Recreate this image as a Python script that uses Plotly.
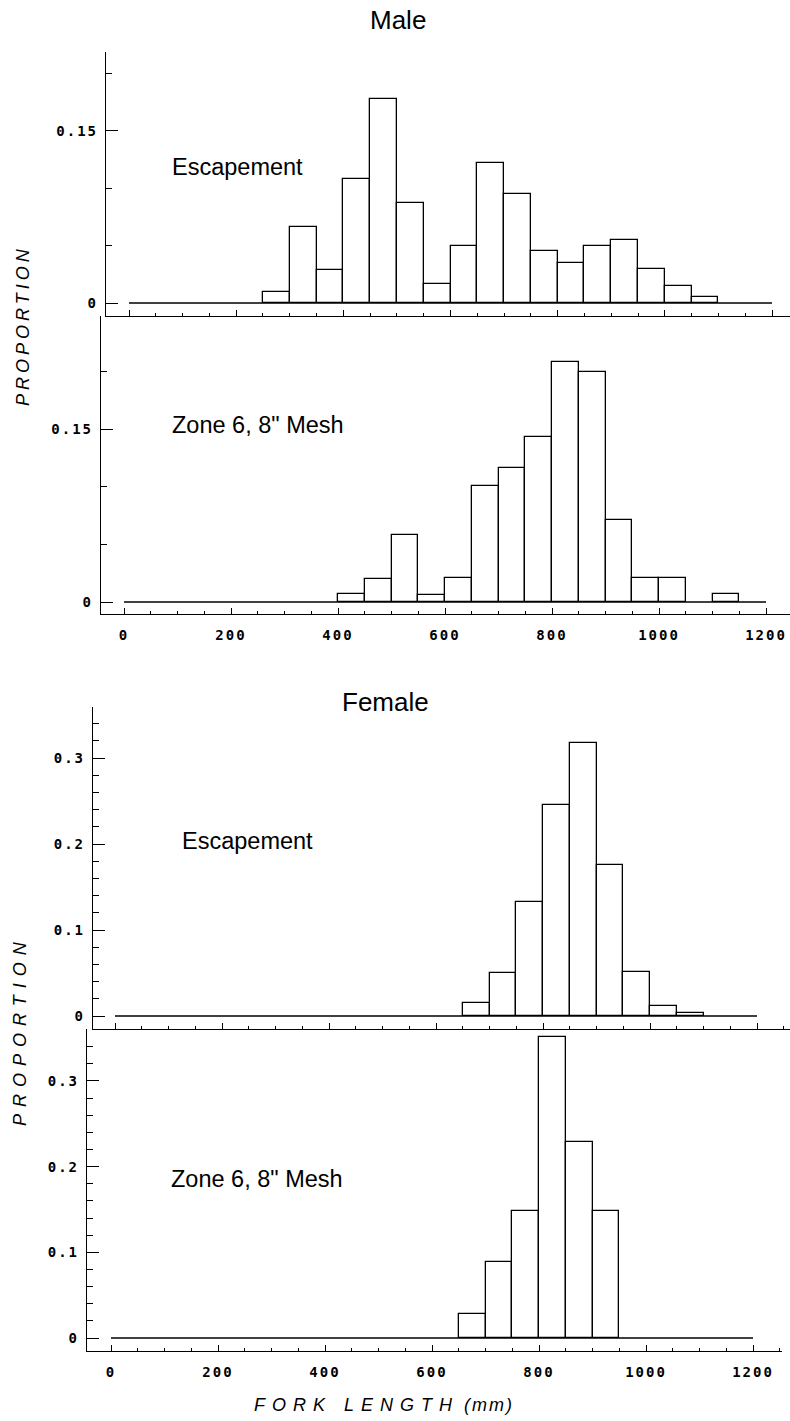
import plotly.graph_objects as go

W, H = 790, 1421

# ---------------- data ----------------
BIN_WIDTH_MM = 50
BASELINE_SPAN_MM = [0, 1200]

male_esc_bins = [250, 300, 350, 400, 450, 500, 550, 600, 650, 700, 750, 800, 850, 900, 950, 1000, 1050]
male_esc_prop = [0.010, 0.066, 0.029, 0.108, 0.178, 0.087, 0.017, 0.050, 0.122, 0.095, 0.045,
                 0.035, 0.050, 0.055, 0.030, 0.015, 0.005]

male_z6_bins = [400, 450, 500, 550, 600, 650, 700, 750, 800, 850, 900, 950, 1000, 1100]
male_z6_prop = [0.007, 0.020, 0.058, 0.006, 0.021, 0.101, 0.116, 0.143, 0.208, 0.200, 0.071,
                0.021, 0.021, 0.007]

fem_esc_bins = [650, 700, 750, 800, 850, 900, 950, 1000, 1050]
fem_esc_prop = [0.015, 0.050, 0.132, 0.245, 0.318, 0.176, 0.051, 0.012, 0.004]

fem_z6_bins = [650, 700, 750, 800, 850, 900]
fem_z6_prop = [0.028, 0.089, 0.148, 0.351, 0.229, 0.148]

x_tick_vals = [0, 200, 400, 600, 800, 1000, 1200]
x_tick_labels = ["0", "200", "400", "600", "800", "1000", "1200"]
male_y_tick_vals = [0, 0.15]
male_y_tick_labels = ["0", "0.15"]
fem_y_tick_vals = [0, 0.1, 0.2, 0.3]
fem_y_tick_labels = ["0", "0.1", "0.2", "0.3"]

panel_labels = ["Escapement", 'Zone 6, 8" Mesh', "Escapement", 'Zone 6, 8" Mesh']
sex_titles = ["Male", "Female"]
y_title = "PROPORTION"
x_title = "FORK LENGTH"
x_unit = "(mm)"

# ---------------- layout geometry (pixels) ----------------
panels = [
    dict(bins=male_esc_bins, vals=male_esc_prop, left=106, right=790, top=52, bottom=316,
         x0=129, x1200=772, y0=303, ppu=1147, yt=male_y_tick_vals, ytl=male_y_tick_labels,
         minor=0.05, xlabels=False),
    dict(bins=male_z6_bins, vals=male_z6_prop, left=101, right=790, top=316, bottom=614,
         x0=124, x1200=766, y0=602, ppu=1152, yt=male_y_tick_vals, ytl=male_y_tick_labels,
         minor=0.05, xlabels=True),
    dict(bins=fem_esc_bins, vals=fem_esc_prop, left=93, right=790, top=707, bottom=1029,
         x0=115, x1200=757, y0=1016, ppu=860, yt=fem_y_tick_vals, ytl=fem_y_tick_labels,
         minor=0.02, xlabels=False),
    dict(bins=fem_z6_bins, vals=fem_z6_prop, left=87, right=782, top=1029, bottom=1351,
         x0=111, x1200=753, y0=1338, ppu=857, yt=fem_y_tick_vals, ytl=fem_y_tick_labels,
         minor=0.02, xlabels=True),
]

TICKFONT = dict(family="DejaVu Sans Mono", size=14, color="black", weight="bold")
LS = '<span style="letter-spacing:2px">{}</span>'


def px_x(p):
    return p / W


def px_y(p):
    return 1 - p / H


fig = go.Figure()
layout = dict(
    width=W, height=H, autosize=False,
    margin=dict(l=0, r=0, t=0, b=0),
    paper_bgcolor="white", plot_bgcolor="rgba(0,0,0,0)",
    showlegend=False, bargap=0,
)

for i, p in enumerate(panels, start=1):
    xa = "x" if i == 1 else f"x{i}"
    ya = "y" if i == 1 else f"y{i}"
    ppmm = (p["x1200"] - p["x0"]) / 1200.0
    xr = [(p["left"] - p["x0"]) / ppmm, (p["right"] - p["x0"]) / ppmm]
    yr = [-(p["bottom"] - p["y0"]) / p["ppu"], (p["y0"] - p["top"]) / p["ppu"]]

    fig.add_trace(go.Scatter(
        x=BASELINE_SPAN_MM, y=[0, 0], mode="lines",
        line=dict(color="black", width=1.3), xaxis=xa, yaxis=ya, hoverinfo="skip"))
    fig.add_trace(go.Bar(
        x=p["bins"], y=p["vals"], width=BIN_WIDTH_MM, offset=0,
        marker=dict(color="white", line=dict(color="black", width=1.3)),
        xaxis=xa, yaxis=ya))

    xkey = "xaxis" if i == 1 else f"xaxis{i}"
    ykey = "yaxis" if i == 1 else f"yaxis{i}"
    layout[xkey] = dict(
        domain=[px_x(p["left"]), px_x(p["right"])], anchor=ya, range=xr,
        showgrid=False, zeroline=False, showline=True, linecolor="black", linewidth=1.3,
        ticks="inside", ticklen=6, tickcolor="black", tickwidth=1.2,
        tickmode="array", tickvals=x_tick_vals,
        ticktext=[LS.format(t) for t in x_tick_labels],
        showticklabels=p["xlabels"], tickfont=TICKFONT, ticklabelstandoff=8,
        minor=dict(dtick=50, tick0=0, ticks="inside", ticklen=3, tickcolor="black",
                   tickwidth=1, showgrid=False),
    )
    layout[ykey] = dict(
        domain=[px_y(p["bottom"]), px_y(p["top"])], anchor=xa, range=yr,
        showgrid=False, zeroline=False, showline=True, linecolor="black", linewidth=1.3,
        ticks="inside", ticklen=12, tickcolor="black", tickwidth=1.2,
        tickmode="array", tickvals=p["yt"],
        ticktext=[LS.format(t) for t in p["ytl"]],
        tickfont=TICKFONT, ticklabelstandoff=4,
        minor=dict(dtick=p["minor"], tick0=0, ticks="inside", ticklen=6, tickcolor="black",
                   tickwidth=1, showgrid=False),
    )

fig.update_layout(**layout)

TXT = dict(family="Liberation Sans, Arial, sans-serif", color="black")
ann = []
# sex titles
for t, (cx, cy) in zip(sex_titles, [(398, 20), (385, 702)]):
    ann.append(dict(text=t, x=px_x(cx), y=px_y(cy), xref="paper", yref="paper",
                    xanchor="center", yanchor="middle", showarrow=False,
                    font=dict(size=26, **TXT)))
# panel labels
for t, (lx, cy) in zip(panel_labels, [(170, 167), (170, 425), (180, 841), (169, 1179)]):
    ann.append(dict(text=t, x=px_x(lx), y=px_y(cy), xref="paper", yref="paper",
                    xanchor="left", yanchor="middle", showarrow=False,
                    font=dict(size=23.5, **TXT)))
# y titles
for (cx, cy, ls) in [(23, 326, 4), (20, 1031, 7)]:
    ann.append(dict(text=f'<i><span style="letter-spacing:{ls}px">{y_title}</span></i>',
                    x=px_x(cx), y=px_y(cy), xref="paper", yref="paper",
                    xanchor="center", yanchor="middle", textangle=-90, showarrow=False,
                    font=dict(size=18, **TXT)))
# x title
ann.append(dict(text=f'<i><span style="letter-spacing:7px">{x_title}</span> '
                     f'<span style="letter-spacing:2px">{x_unit}</span></i>',
                x=px_x(384), y=px_y(1405), xref="paper", yref="paper",
                xanchor="center", yanchor="middle", showarrow=False,
                font=dict(size=18, **TXT)))
fig.update_layout(annotations=ann)

fig.write_html("out.html")
